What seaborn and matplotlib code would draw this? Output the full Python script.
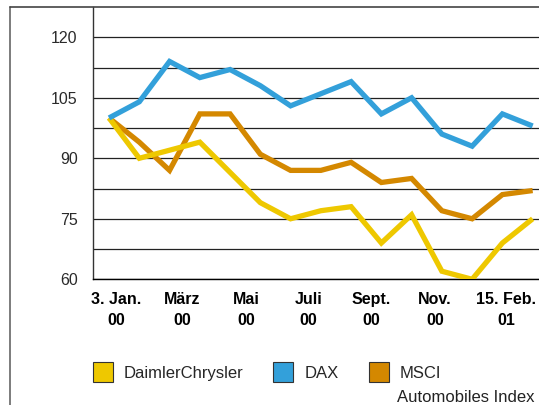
import matplotlib
matplotlib.use("Agg")
import matplotlib.pyplot as plt
import seaborn as sns
import pandas as pd
import numpy as np
from matplotlib.patches import Patch
from matplotlib.lines import Line2D

# --- data (index, 3 Jan 2000 = 100) ---
period = list(range(15))
daimler = [100, 90, 92, 94, 86.5, 79, 75, 77, 78, 69, 76, 62, 60, 69, 75]
dax = [100, 104, 114, 110, 112, 108, 103, 106, 109, 101, 105, 96, 93, 101, 98]
msci = [100, 94, 87, 101, 101, 91, 87, 87, 89, 84, 85, 77, 75, 81, 82]

series_names = ["DaimlerChrysler", "DAX", "MSCI"]
series_colors = ["#EEC800", "#33A0DA", "#D48800"]
tick_labels = ["3. Jan.\n00", "März\n00", "Mai\n00", "Juli\n00",
               "Sept.\n00", "Nov.\n00", "15. Feb.\n01"]
y_labels = [60, 75, 90, 105, 120]

df = pd.DataFrame({
    "period": period * 3,
    "value": daimler + dax + msci,
    "series": ["DaimlerChrysler"] * 15 + ["DAX"] * 15 + ["MSCI"] * 15,
})

sns.set_theme(style="white")
plt.rcParams["font.family"] = ["Liberation Sans", "DejaVu Sans"]

W, H = 539, 405
fig = plt.figure(figsize=(W / 100, H / 100), dpi=100)
ax = fig.add_axes([93 / W, 1 - 279.3 / H, 1 - 93 / W, (279.3 - 7) / H])

palette = dict(zip(series_names, series_colors))
# MSCI underneath, DAX on top
sns.lineplot(data=df, x="period", y="value", hue="series",
             hue_order=["MSCI", "DaimlerChrysler", "DAX"], palette=palette,
             linewidth=3.8, legend=False, ax=ax, zorder=3)
for ln in ax.get_lines():
    ln.set_solid_joinstyle("miter")
    ln.set_solid_capstyle("butt")

ax.set_xlim(-0.53, 14.21)
ax.set_ylim(60, 127.5)
ax.set_xlabel("")
ax.set_ylabel("")

# y axis: labelled every 15, grid every 7.5
ax.set_yticks(y_labels)
ax.set_yticks(np.arange(67.5, 127, 15), minor=True)
ax.grid(axis="y", which="both", color="#222222", linewidth=0.9, zorder=1)
ax.set_axisbelow(True)
ax.tick_params(axis="y", which="both", length=0, pad=11, labelsize=11.5,
               labelcolor="#2a2a2a")

tick_pos = [0.25, 2.41, 4.53, 6.58, 8.66, 10.77, 13.12]
ax.set_xticks(tick_pos)
ax.set_xticklabels(tick_labels, fontweight="bold", fontsize=11.5,
                   linespacing=1.5, color="black")
ax.tick_params(axis="x", length=0, pad=9.5)

for side in ["top", "right"]:
    ax.spines[side].set_visible(False)
ax.spines["left"].set_color("#333333")
ax.spines["left"].set_linewidth(1.0)
ax.spines["bottom"].set_color("black")
ax.spines["bottom"].set_linewidth(1.0)

# outer frame (left and top)
fig.add_artist(Line2D([10 / W, 10 / W], [0, 1 - 7 / H], color="#666666",
                      linewidth=1.2, transform=fig.transFigure))
fig.add_artist(Line2D([10 / W, 1], [1 - 7 / H, 1 - 7 / H], color="#444444",
                      linewidth=1.2, transform=fig.transFigure))

# legend
handles = [Patch(facecolor=c, edgecolor="#333333", linewidth=0.8, label=n)
           for n, c in zip(series_names, series_colors)]
fig.legend(handles=handles, loc="center left", ncol=3, frameon=False,
           bbox_to_anchor=(92.5 / W, 1 - 372 / H), fontsize=12,
           handlelength=1.2, handleheight=1.47, handletextpad=0.66,
           columnspacing=1.8, borderpad=0, borderaxespad=0)
fig.text(396.7 / W, 1 - 401.7 / H, "Automobiles Index", fontsize=12,
         va="baseline", ha="left", color="#222222")

fig.savefig("out.png", dpi=100)
